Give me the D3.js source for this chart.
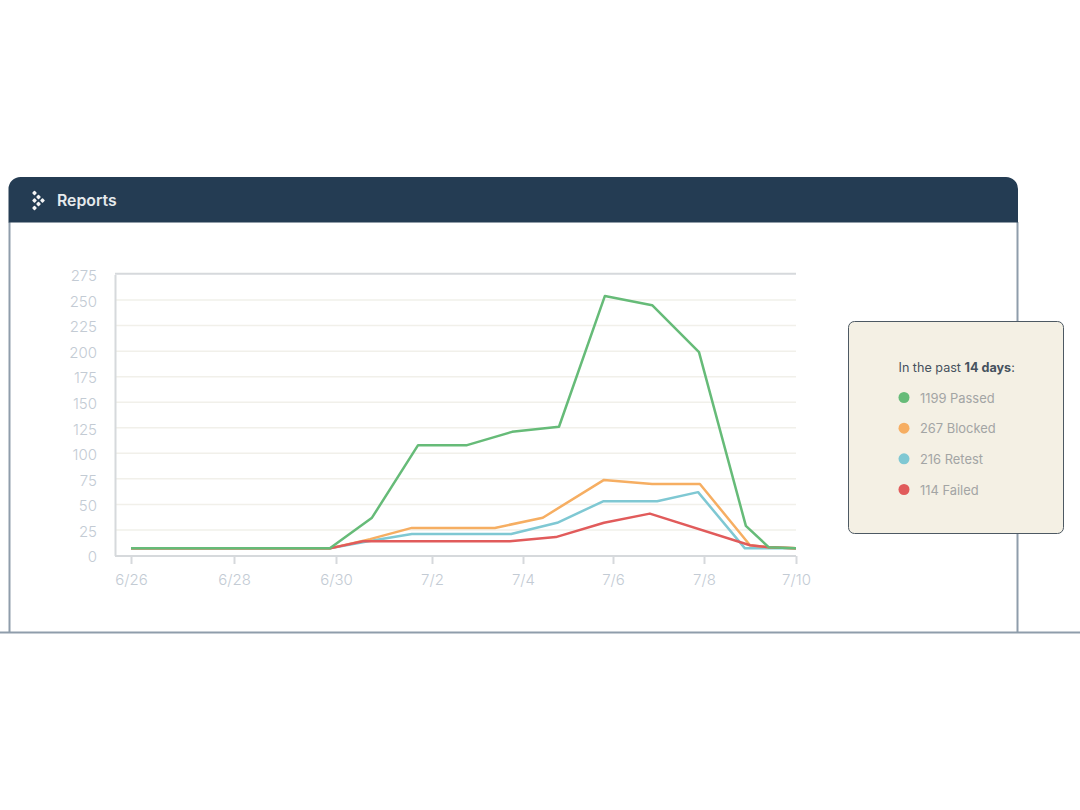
<!DOCTYPE html>
<html>
<head>
<meta charset="utf-8">
<script src="https://cdn.jsdelivr.net/npm/d3@7"></script>
<style>
  html, body { margin: 0; padding: 0; background: #fff; }
  svg { display: block; }
  text { font-family: Inter, "Noto Sans", sans-serif; }
  .axis path, .axis line { stroke: #d6d9dc; stroke-width: 2; }
  .axis text { fill: #c3cbd4; font-size: 15px; font-weight: 300; }
</style>
</head>
<body>
<div id="chart"></div>
<script>
(function () {
  // y values. day = days since 6/26
  const yTicks = [0, 25, 50, 75, 100, 125, 150, 175, 200, 225, 250, 275]
  const tickDays = [0, 2, 4, 6, 8, 10, 12, 14]
  const tickLabels = ["6/26", "6/28", "6/30", "7/2", "7/4", "7/6", "7/8", "7/10"]

  const passedDays = [0, 3.88, 4.75, 5.71, 6.77, 7.76, 8.8, 9.82, 10.86, 11.89, 12.91, 13.41, 14]
  const passedValues = [7, 7, 37, 108, 108, 121, 126, 254, 245, 199, 29, 8, 7]

  const blockedDays = [0, 3.88, 4.71, 5.58, 7.38, 8.44, 9.8, 10.86, 11.91, 13.0, 13.41, 14]
  const blockedValues = [7, 7, 16, 27, 27, 37, 74, 70, 70, 10, 8, 7]

  const retestDays = [0, 3.88, 4.67, 5.58, 7.74, 8.76, 9.78, 10.97, 11.87, 12.89, 14]
  const retestValues = [7, 7, 14, 21, 21, 32, 53, 53, 62, 7, 7]

  const failedDays = [0, 3.88, 4.56, 7.71, 8.73, 9.8, 10.81, 13.0, 13.41, 14]
  const failedValues = [7, 7, 14, 14, 18, 32, 41, 10, 8, 7]

  const legendCounts = [1199, 267, 216, 114]
  const legendNames = ["Passed", "Blocked", "Retest", "Failed"]
  const colors = ["#66bb78", "#f6ae62", "#7fc8d3", "#e15b5b"]

  const svg = d3.select("#chart").append("svg")
    .attr("width", 1080)
    .attr("height", 810)

  // card
  svg.append("path")
    .attr("d", "M9.5,222 V632 M1017.5,222 V632 M0,632.5 H1080")
    .attr("fill", "none")
    .attr("stroke", "#8f9dab")
    .attr("stroke-width", 2)
  svg.append("path")
    .attr("d", "M8.5,222.5 V189 a12,12 0 0 1 12,-12 H1006 a12,12 0 0 1 12,12 V222.5 Z")
    .attr("fill", "#243c53")

  // logo
  const logoX = [34.5, 38.5, 42.5, 34.5, 38.5, 34.5]
  const logoY = [193, 197, 200.5, 200.5, 204, 208]
  svg.selectAll(".logo")
    .data(logoX)
    .join("rect")
    .attr("class", "logo")
    .attr("width", 3.6)
    .attr("height", 3.6)
    .attr("rx", 0.8)
    .attr("fill", "#f4f5f6")
    .attr("transform", (d, i) => `translate(${d},${logoY[i] - 2.6}) rotate(45)`)

  svg.append("text")
    .attr("x", 57)
    .attr("y", 205.5)
    .attr("fill", "#e6eaed")
    .attr("font-size", 15.8)
    .attr("font-weight", 600)
    .text("Reports")

  // scales. the date ticks are not evenly spaced in the picture
  const xPositionScale = d3.scaleLinear()
    .domain(tickDays)
    .range([131, 234, 336, 432, 523, 613, 704, 796])
  const yPositionScale = d3.scaleLinear()
    .domain([0, 275])
    .range([555.5, 274.5])

  // gridlines
  svg.selectAll(".grid")
    .data(yTicks.filter(d => d > 0 && d < 275))
    .join("line")
    .attr("class", "grid")
    .attr("x1", 115)
    .attr("x2", 796)
    .attr("y1", d => yPositionScale(d))
    .attr("y2", d => yPositionScale(d))
    .attr("stroke", "#f1f0ea")
    .attr("stroke-width", 1.5)
  svg.append("line")
    .attr("x1", 115)
    .attr("x2", 796)
    .attr("y1", yPositionScale(275) - 0.8)
    .attr("y2", yPositionScale(275) - 0.8)
    .attr("stroke", "#d6d9dc")
    .attr("stroke-width", 2)

  // axes
  const yAxis = d3.axisLeft(yPositionScale)
    .tickValues(yTicks)
    .tickSize(0)
    .tickPadding(18)
  const yAxisG = svg.append("g")
    .attr("class", "axis")
    .attr("transform", "translate(115,0)")
    .call(yAxis)
  yAxisG.selectAll("text").attr("dy", "0.42em")

  const xAxis = d3.axisBottom(xPositionScale)
    .tickValues(tickDays)
    .tickFormat((d, i) => tickLabels[i])
    .tickSize(8)
    .tickPadding(10)
  const xAxisG = svg.append("g")
    .attr("class", "axis")
    .attr("transform", "translate(0,556)")
    .call(xAxis)
  xAxisG.select(".domain").attr("d", "M115,0 H796")

  // lines
  const line = d3.line()
    .x(d => xPositionScale(d[0]))
    .y(d => yPositionScale(d[1]))
  const series = [
    { days: retestDays, values: retestValues, color: colors[2] },
    { days: blockedDays, values: blockedValues, color: colors[1] },
    { days: failedDays, values: failedValues, color: colors[3] },
    { days: passedDays, values: passedValues, color: colors[0] }
  ]
  svg.selectAll(".series")
    .data(series)
    .join("path")
    .attr("class", "series")
    .attr("fill", "none")
    .attr("stroke", d => d.color)
    .attr("stroke-width", 2.5)
    .attr("stroke-linejoin", "round")
    .attr("d", d => line(d.days.map((day, i) => [day, d.values[i]])))

  // legend box
  svg.append("rect")
    .attr("x", 848.5)
    .attr("y", 321.5)
    .attr("width", 215)
    .attr("height", 212)
    .attr("rx", 6)
    .attr("fill", "#f4f0e4")
    .attr("stroke", "#4d5963")
    .attr("stroke-width", 1)

  const title = svg.append("text")
    .attr("x", 898.5)
    .attr("y", 371.5)
    .attr("fill", "#46525e")
    .attr("font-size", 12.6)
  title.append("tspan").text("In the past ")
  title.append("tspan").attr("font-weight", 700).text("14 days")
  title.append("tspan").text(":")

  const legendY = d3.scalePoint()
    .domain(legendNames)
    .range([397.5, 489.5])
  const legend = svg.selectAll(".legend")
    .data(legendNames)
    .join("g")
    .attr("class", "legend")
    .attr("transform", d => `translate(904,${legendY(d)})`)
  legend.append("circle")
    .attr("r", 5.5)
    .attr("fill", (d, i) => colors[i])
  legend.append("text")
    .attr("x", 16)
    .attr("y", 5)
    .attr("fill", "#a3a5a4")
    .attr("font-size", 12.9)
    .text((d, i) => legendCounts[i] + " " + d)
})();
</script>
</body>
</html>
